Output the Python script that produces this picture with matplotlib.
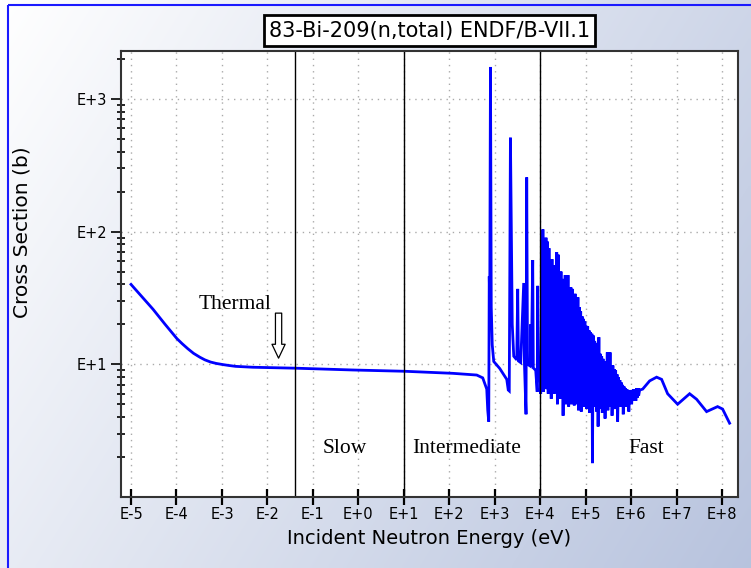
import numpy as np
import matplotlib
matplotlib.use('Agg')
import matplotlib.pyplot as plt
from matplotlib.ticker import FixedLocator, FixedFormatter, LogLocator, NullFormatter

# ---------------- data (energy as log10(E/eV), cross section in barns) ----------------
log_energy_ev = [
    -5.0, -4.75, -4.516, -4.25, -3.989, -3.875, -3.75, -3.625, -3.484, -3.375, -3.25,
    -3.125, -2.978, -2.85, -2.7, -2.319,
    -1.725, -1.396, -0.121, 1.022, 2.077, 2.604, 2.736, 2.824, 2.846, 2.868,
    2.879, 2.890, 2.906, 2.923, 2.945, 2.978, 3.110, 3.264, 3.297, 3.319, 3.345,
    3.363, 3.385, 3.418, 3.484, 3.505, 3.521, 3.571, 3.637, 3.653, 3.688, 3.703,
    3.721, 3.780, 3.791, 3.804, 3.835, 3.848, 3.901, 3.934, 3.945, 3.960, 3.989,
    4.011, 4.033, 4.044, 4.059, 4.073, 4.095, 4.110, 4.127, 4.143, 4.160, 4.176,
    4.193, 4.209, 4.226, 4.242, 4.259, 4.275, 4.292, 4.308, 4.325, 4.341, 4.363,
    4.378, 4.396, 4.411, 4.429, 4.442, 4.457, 4.473, 4.490, 4.503, 4.521, 4.534,
    4.549, 4.565, 4.582, 4.596, 4.611, 4.626, 4.644, 4.657, 4.675, 4.688, 4.706,
    4.719, 4.736, 4.749, 4.767, 4.780, 4.798, 4.811, 4.829, 4.842, 4.859, 4.873,
    4.890, 4.903, 4.921, 4.934, 4.952, 4.965, 4.982, 4.996, 5.013, 5.026, 5.044,
    5.057, 5.075, 5.088, 5.106, 5.119, 5.136, 5.149, 5.165, 5.180, 5.198, 5.211,
    5.229, 5.242, 5.259, 5.273, 5.290, 5.303, 5.321, 5.334, 5.352, 5.365, 5.382,
    5.396, 5.413, 5.426, 5.444, 5.457, 5.475, 5.488, 5.506, 5.519, 5.536, 5.549,
    5.567, 5.580, 5.598, 5.611, 5.629, 5.642, 5.659, 5.673, 5.690, 5.703, 5.721,
    5.734, 5.752, 5.765, 5.782, 5.796, 5.813, 5.826, 5.844, 5.857, 5.875, 5.888,
    5.906, 5.919, 5.936, 5.949, 5.967, 5.980, 5.998, 6.011, 6.029, 6.042, 6.059,
    6.073, 6.090, 6.103, 6.121, 6.134, 6.152, 6.165, 6.187,
    6.253, 6.407, 6.560, 6.670, 6.802, 7.022, 7.286, 7.440, 7.659, 7.901, 8.011,
    8.165,
]
cross_section_b = [
    40, 32, 26, 20, 15.6, 14.3, 13.1, 12.1, 11.3, 10.8, 10.4,
    10.15, 9.95, 9.8, 9.65, 9.5,
    9.4, 9.35, 9.06, 8.86, 8.55, 8.3, 7.9, 6.5, 4.5, 3.7,
    46, 30, 1740, 27, 14, 10.5, 9.3, 7.7, 6.4, 6.3, 510,
    109, 20, 11.5, 10.8, 37, 10.6, 10.3, 41, 10.2, 4.2, 256,
    10.0, 9.7, 20, 9.6, 61, 9.4, 9.0, 6.2, 39, 8.6, 8.3,
    6.0, 40, 7.0, 104, 6.2, 30, 9.0, 90, 6.5, 84, 6.0,
    75, 8.0, 35, 5.5, 62, 9.0, 56, 6.0, 40, 9.5, 70,
    5.0, 67, 7.0, 45, 5.5, 50, 6.0, 42, 4.1, 44, 6.5,
    47, 5.0, 40, 7.0, 47, 4.8, 36, 6.0, 38, 5.0, 37,
    6.5, 33, 4.9, 34, 6.0, 30, 5.0, 32, 4.5, 27, 6.0,
    25, 4.4, 23, 5.5, 22, 4.8, 21, 5.5, 19.5, 4.6, 19.3,
    5.2, 18, 4.3, 17.5, 5.0, 17, 1.8, 16.5, 4.8, 15, 5.0,
    14.5, 4.4, 13.5, 3.4, 16, 4.6, 12, 5.0, 11.5, 4.3, 11,
    5.2, 10.5, 3.9, 10, 5.0, 12.3, 4.5, 11, 4.8, 12.3, 5.2,
    9.5, 4.1, 9.8, 5.4, 9.2, 4.6, 9.0, 5.5, 8.4, 3.7, 8.0,
    5.3, 7.6, 4.8, 7.3, 5.2, 7.0, 4.2, 6.8, 5.3, 6.6, 4.8,
    6.5, 5.4, 6.4, 4.4, 6.3, 5.2, 6.4, 5.0, 6.4, 5.3, 6.5,
    5.4, 6.5, 5.3, 6.6, 5.6, 6.6, 5.8, 6.4,
    6.5, 7.5, 8.0, 7.7, 6.0, 5.0, 6.0, 5.45, 4.4, 4.8, 4.6,
    3.6,
]
x_tick_exponents = [-5, -4, -3, -2, -1, 0, 1, 2, 3, 4, 5, 6, 7, 8]
x_tick_labels = ['E-5', 'E-4', 'E-3', 'E-2', 'E-1', 'E+0', 'E+1', 'E+2',
                 'E+3', 'E+4', 'E+5', 'E+6', 'E+7', 'E+8']
y_tick_values = [10, 100, 1000]
y_tick_labels = ['E+1', 'E+2', 'E+3']
region_bounds_ev = [0.04, 10, 1e4]
region_names = ['Slow', 'Intermediate', 'Fast']
region_label_ev = [0.505, 243, 2.19e6]
thermal_ev = 0.0176
title = '83-Bi-209(n,total) ENDF/B-VII.1'

W, H = 751, 568
fig = plt.figure(figsize=(W / 100, H / 100), dpi=100)

# background gradient
bg = fig.add_axes([0, 0, 1, 1])
yy, xx = np.mgrid[0:1:120j, 0:1:160j]
t = np.clip(0.68 * xx + 0.32 * yy, 0, 1)
c0 = np.array([1.0, 1.0, 1.0])
c1 = np.array([0.72, 0.765, 0.87])
img = c0 + (c1 - c0) * t[..., None]
bg.imshow(img, extent=[0, 1, 0, 1], aspect='auto', origin='upper', interpolation='bilinear')
bg.set_xlim(0, 1)
bg.set_ylim(0, 1)
bg.axis('off')
bg.plot([8 / W, 8 / W], [0, 1 - 5 / H], color='#1a1aff', lw=1.5, solid_capstyle='butt')
bg.plot([8 / W, 1], [1 - 5 / H, 1 - 5 / H], color='#1a1aff', lw=1.5, solid_capstyle='butt')

# main axes
ax = fig.add_axes([121 / W, 71 / H, 617 / W, 446 / H])
ax.set_facecolor('white')
energy = 10.0 ** np.array(log_energy_ev)
ax.plot(energy, cross_section_b, color='#0000ff', lw=2.0, solid_joinstyle='miter')
ax.set_xscale('log')
ax.set_yscale('log')
ax.set_xlim(10 ** -5.22, 10 ** 8.35)
ax.set_ylim(1.0, 2296)

ax.xaxis.set_major_locator(FixedLocator([10.0 ** e for e in x_tick_exponents]))
ax.xaxis.set_major_formatter(FixedFormatter(x_tick_labels))
ax.xaxis.set_minor_locator(FixedLocator([]))
ax.yaxis.set_major_locator(FixedLocator(y_tick_values))
ax.yaxis.set_major_formatter(FixedFormatter(y_tick_labels))
ax.yaxis.set_minor_locator(LogLocator(base=10, subs=np.arange(2, 10), numticks=20))
ax.yaxis.set_minor_formatter(NullFormatter())

ax.tick_params(axis='x', which='major', direction='inout', length=11, width=1.6,
               labelsize=10.5, pad=2, colors='black')
ax.tick_params(axis='y', which='major', direction='out', length=7, width=1.2,
               labelsize=10.5, pad=3)
ax.tick_params(axis='y', which='minor', direction='inout', length=6, width=1.2)
for s in ax.spines.values():
    s.set_linewidth(1.5)
    s.set_color('#333333')

ax.grid(True, which='major', color='#aaaaaa', linestyle=(0, (1, 3.5)), lw=1.0)

for b in region_bounds_ev:
    ax.axvline(b, color='black', lw=1.0)

serif = ['Liberation Serif', 'DejaVu Serif']
for name, xe in zip(region_names, region_label_ev):
    ax.text(xe, 2.33, name, ha='center', va='center', fontsize=15.5, family=serif)
ax.text(1.93e-3, 28.2, 'Thermal', ha='center', va='center', fontsize=15.5, family=serif)
ax.annotate('', xy=(thermal_ev, 10.6), xytext=(thermal_ev, 25.5),
            arrowprops=dict(arrowstyle='simple,head_width=0.95,head_length=1.0,tail_width=0.45',
                            fc='white', ec='black', lw=0.9))

ax.set_xlabel('Incident Neutron Energy (eV)', fontsize=14, labelpad=5)
ax.set_ylabel('Cross Section (b)', fontsize=14.5)
ax.yaxis.set_label_coords((31 - 121) / 617, (497 - 232) / 446)

fig.text(429.5 / W, 1 - 30.5 / H, title, ha='center', va='center', fontsize=15,
         bbox=dict(boxstyle='square,pad=0.25', fc='white', ec='black', lw=2))

fig.savefig('out.png', dpi=100)
